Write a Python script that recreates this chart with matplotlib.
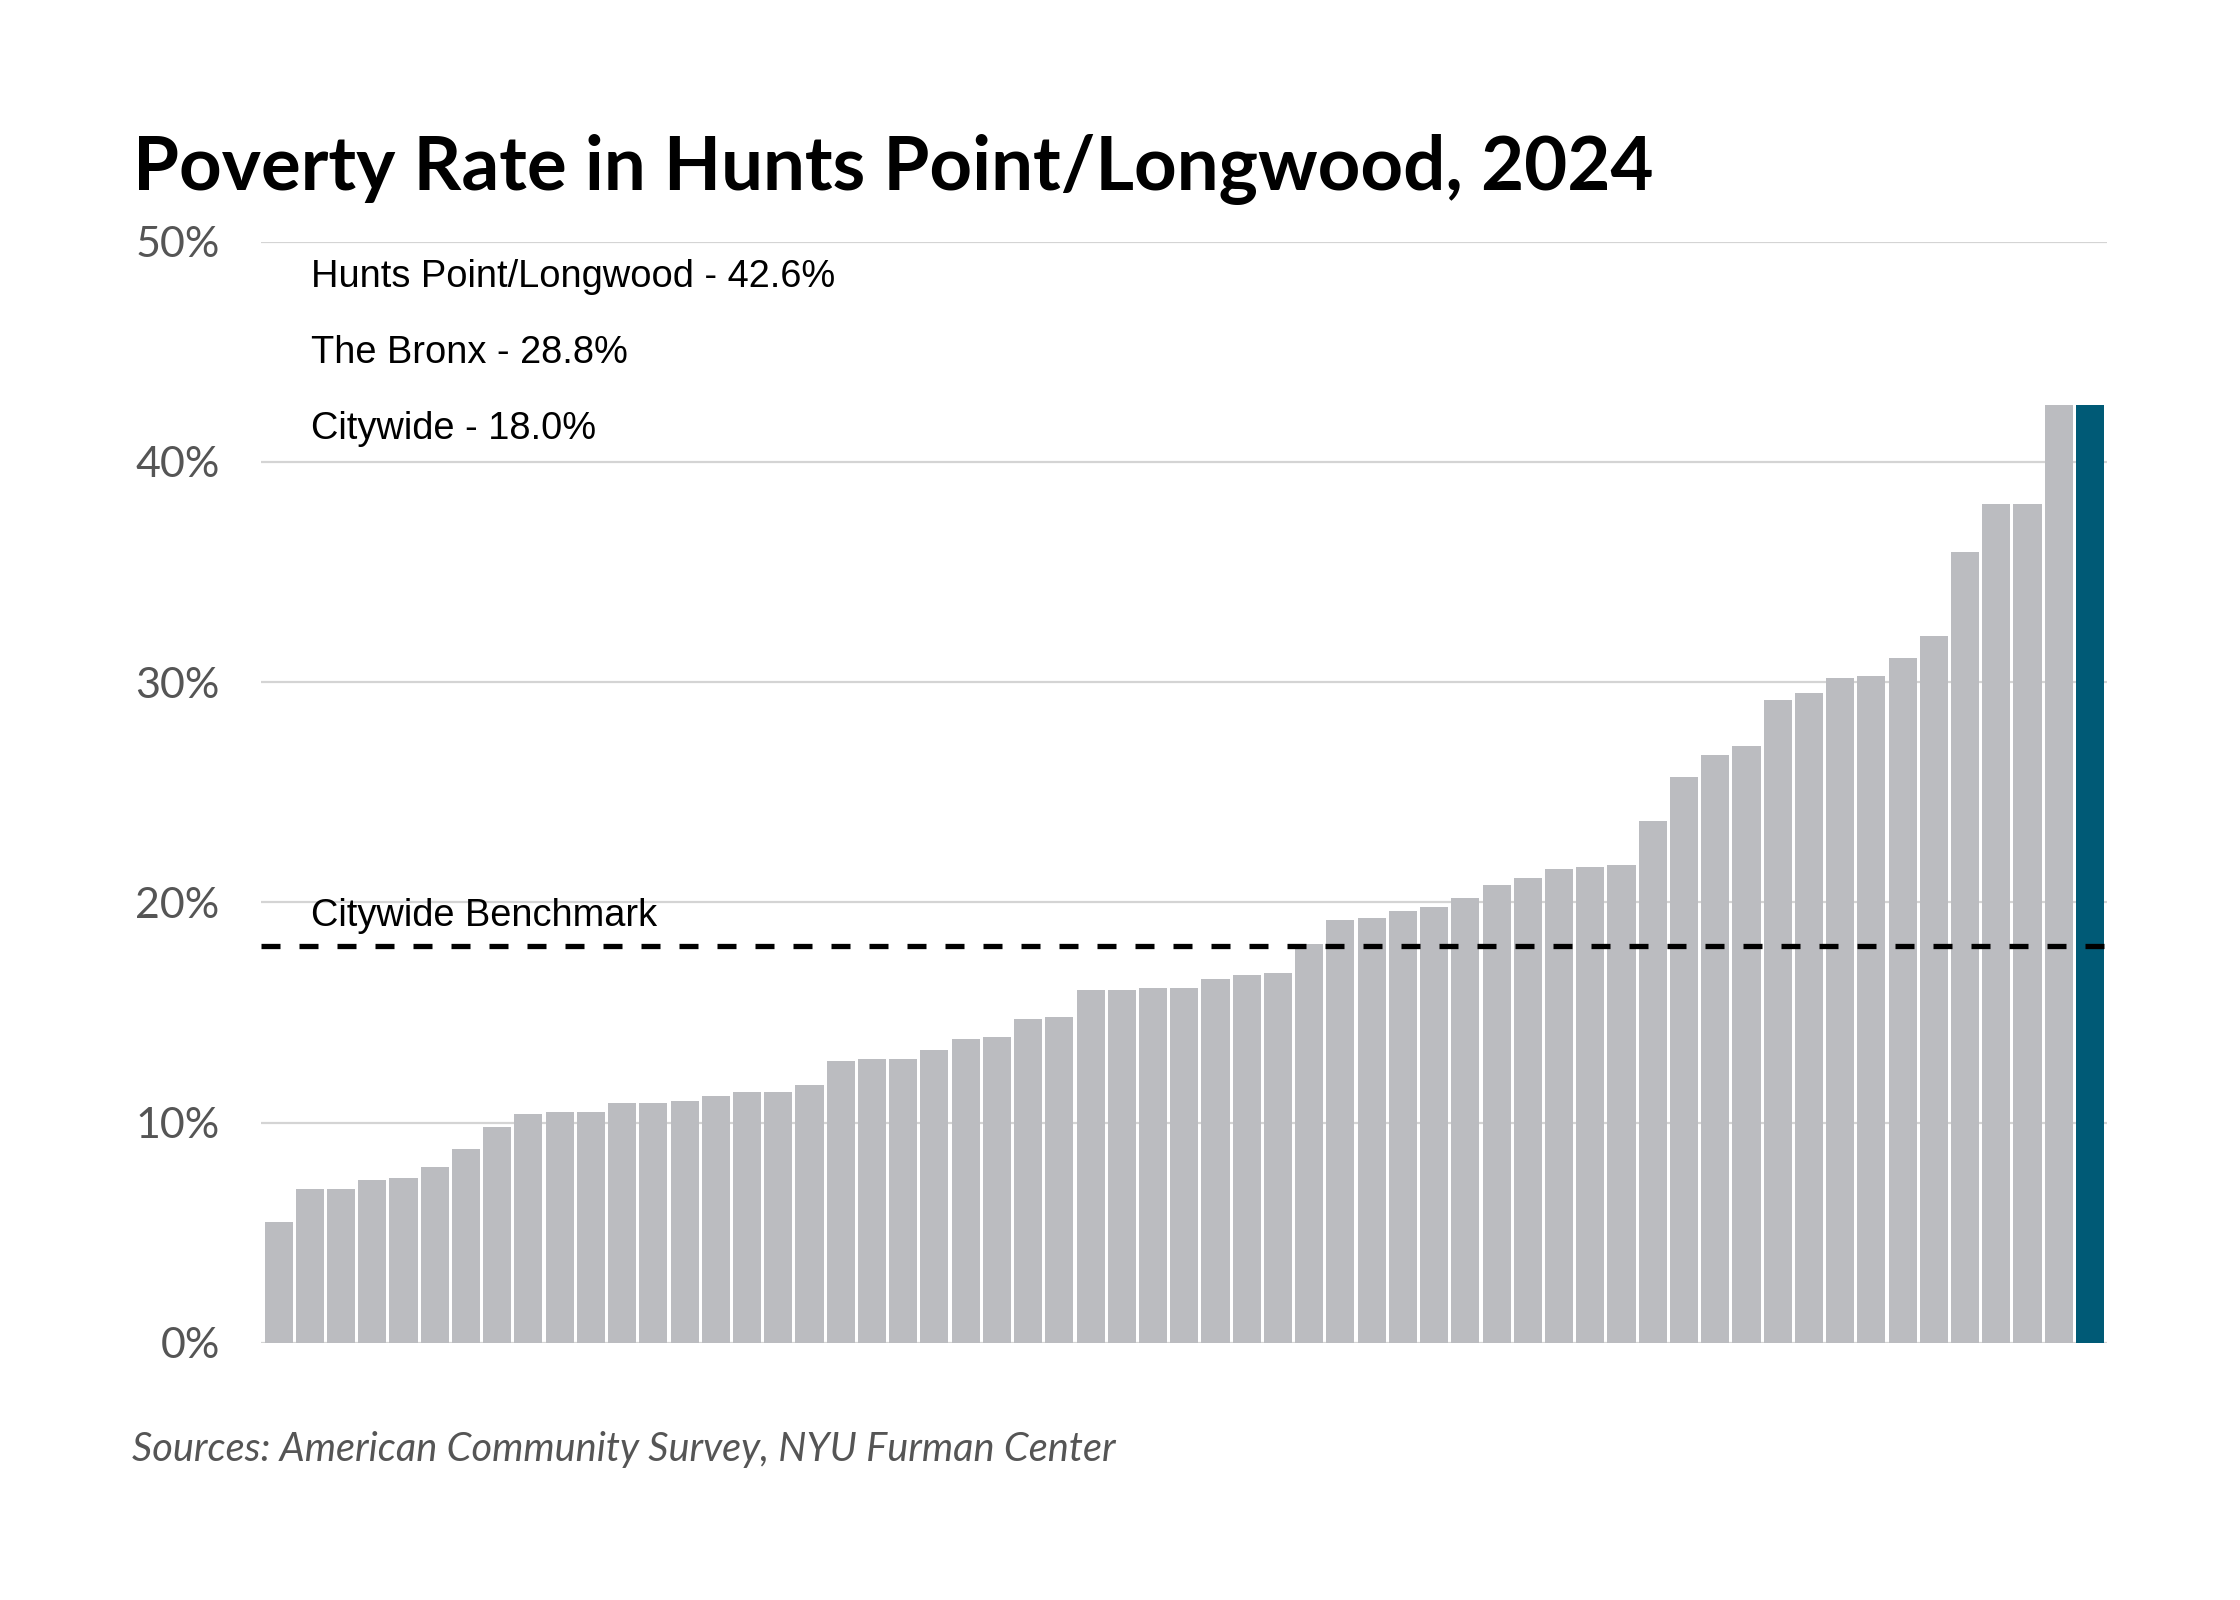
import numpy as np
import matplotlib
matplotlib.use("Agg")
import matplotlib.pyplot as plt
from matplotlib.ticker import FuncFormatter

# poverty rate (%) by community district, sorted; the last one is Hunts Point/Longwood
rates = [5.5, 7.0, 7.0, 7.4, 7.5, 8.0, 8.8, 9.8, 10.4, 10.5,
         10.5, 10.9, 10.9, 11.0, 11.2, 11.4, 11.4, 11.7, 12.8, 12.9,
         12.9, 13.3, 13.8, 13.9, 14.7, 14.8, 16.0, 16.0, 16.1, 16.1,
         16.5, 16.7, 16.8, 18.1, 19.2, 19.3, 19.6, 19.8, 20.2, 20.8,
         21.1, 21.5, 21.6, 21.7, 23.7, 25.7, 26.7, 27.1, 29.2, 29.5,
         30.2, 30.3, 31.1, 32.1, 35.9, 38.1, 38.1, 42.6, 42.6]
highlight_idx = len(rates) - 1
citywide = 18.0
legend_lines = ["Hunts Point/Longwood - 42.6%",
                "The Bronx - 28.8%",
                "Citywide - 18.0%"]
y_ticks = [0, 10, 20, 30, 40, 50]

title = "Poverty Rate in Hunts Point/Longwood, 2024"
source = "Sources: American Community Survey, NYU Furman Center"

GREY = "#bbbcc0"
BLUE = "#005a76"


def main():
    fig = plt.figure(figsize=(11.2, 8), dpi=200)
    ax = fig.add_axes([0.1167, 0.1607, 0.8240, 0.6883])

    x = np.arange(len(rates))
    colors = [BLUE if i == highlight_idx else GREY for i in x]
    ax.bar(x, rates, width=0.9, color=colors, zorder=2)

    ax.axhline(citywide, color="black", lw=1.9, ls=(0, (3.6, 3.6)), zorder=3)
    ax.text(1.05, citywide + 1.4, "Citywide Benchmark", fontsize=13.7,
            family="Liberation Sans", va="center", ha="left")

    for k, line in enumerate(legend_lines):
        ax.text(1.05, 48.4 - 3.45 * k, line, fontsize=13.7,
                family="Liberation Sans", va="center", ha="left")

    ax.set_xlim(-0.55, len(rates) - 0.45)
    ax.set_ylim(0, 50)
    ax.set_yticks(y_ticks)
    ax.yaxis.set_major_formatter(FuncFormatter(lambda v, p: f"{v:.0f}%"))
    ax.set_xticks([])
    ax.grid(axis="y", color="#d4d4d4", lw=0.8, zorder=0)
    ax.tick_params(axis="y", length=0, pad=15, labelsize=15.5,
                   labelcolor="#555555")
    for lbl in ax.get_yticklabels():
        lbl.set_family("Lato")
    for s in ax.spines.values():
        s.set_visible(False)

    fig.text(0.0595, 0.881, title, fontsize=26.8, fontweight="bold",
             family="Lato", va="baseline", ha="left")
    fig.text(0.059, 0.094, source, fontsize=14.3, style="italic",
             family="Lato", color="#555555", va="center", ha="left")

    fig.savefig("out.png", dpi=200)


if __name__ == "__main__":
    main()
